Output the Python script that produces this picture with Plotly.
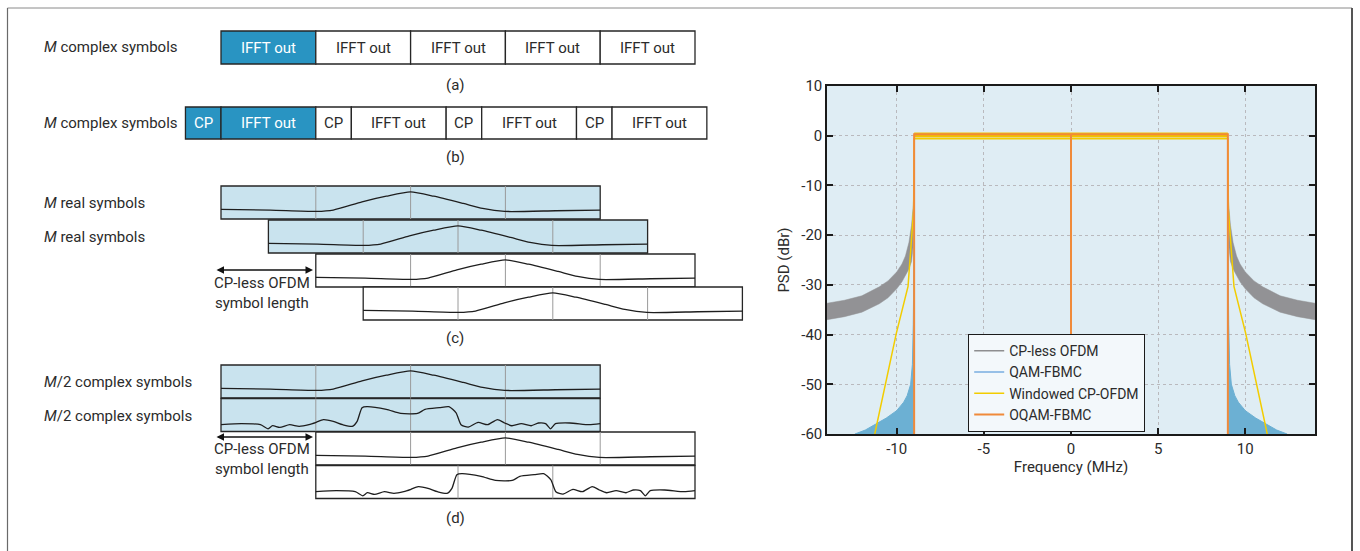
import plotly.graph_objects as go

W, H = 1360, 551
FONT = "Roboto, 'Open Sans', sans-serif"
TXT = "#2b2b2b"

# ---------------- PSD panel data ----------------
psd_xticks = [-10, -5, 0, 5, 10]
psd_xticktext = ["-10", "-5", "0", "5", "10"]
psd_yticks = [-60, -50, -40, -30, -20, -10, 0, 10]
psd_yticktext = ["-60", "-50", "-40", "-30", "-20", "-10", "0", "10"]

band_f = [-9.0, 9.0]          # occupied band edges (MHz)
inband_psd = [0.0, 0.0]       # in-band level (dBr)

# CP-less OFDM: out-of-band sidelobe envelope (left side, mirrored on the right)
cpless_f = [-14.0, -13.0, -12.0, -11.0, -10.5, -10.0, -9.7, -9.5, -9.3, -9.15, -9.05, -9.0]
cpless_upper = [-33.7, -33.1, -32.2, -30.4, -29.2, -27.4, -25.8, -24.2, -21.5, -18.0, -14.0, -10.0]
cpless_lower = [-37.0, -36.4, -35.5, -33.8, -32.6, -30.8, -29.4, -28.2, -26.8, -25.3, -22.0, -10.0]

# QAM-FBMC out-of-band skirt (left side, mirrored)
qam_f = [-12.4, -11.8, -11.2, -10.6, -10.0, -9.6, -9.4, -9.2, -9.1, -9.05, -9.0]
qam_psd = [-60.0, -59.2, -58.0, -56.8, -55.3, -53.6, -52.3, -50.0, -46.0, -38.0, -20.0]

# Windowed CP-OFDM skirt (left side, mirrored)
win_f = [-11.26, -10.02, -9.35, -9.03, -9.0]
win_psd = [-60.0, -39.7, -30.3, -15.0, -0.6]
win_top = [0.15, 0.15]

# OQAM-FBMC (with DC null)
oqam_f = [-9.0, -9.0, 0.0, 0.0, 0.0, 9.0, 9.0]
oqam_psd = [-60.0, 0.3, 0.3, -60.0, 0.3, 0.3, -60.0]

# ---------------- Diagram data ----------------
row_a_labels = ["IFFT out", "IFFT out", "IFFT out", "IFFT out", "IFFT out"]
row_a_len = [1, 1, 1, 1, 1]
row_a_fill = [True, False, False, False, False]

row_b_labels = ["CP", "IFFT out", "CP", "IFFT out", "CP", "IFFT out", "CP", "IFFT out"]
row_b_len = [0.375, 1, 0.375, 1, 0.375, 1, 0.375, 1]
row_b_fill = [True, True, False, False, False, False, False, False]

# pulse shapes (x fraction of block, y fraction from block top)
bell_x = [0.0, 0.13, 0.251, 0.296, 0.372, 0.436, 0.5, 0.561, 0.639, 0.69, 0.748, 0.882, 1.0]
bell_y = [0.71, 0.73, 0.77, 0.73, 0.48, 0.31, 0.18, 0.31, 0.53, 0.68, 0.77, 0.75, 0.73]

noisy_x = [0.0, 0.054, 0.104, 0.124, 0.136, 0.155, 0.181, 0.206, 0.232, 0.251, 0.27, 0.296,
           0.321, 0.346, 0.359, 0.372, 0.385, 0.436, 0.474, 0.518, 0.538, 0.576, 0.601, 0.62,
           0.633, 0.652, 0.678, 0.703, 0.729, 0.748, 0.767, 0.792, 0.818, 0.837, 0.856, 0.869,
           0.882, 0.92, 0.971, 1.0]
noisy_y = [0.794, 0.763, 0.794, 0.918, 0.825, 0.876, 0.794, 0.845, 0.794, 0.722, 0.639, 0.691,
           0.794, 0.845, 0.691, 0.278, 0.247, 0.33, 0.454, 0.454, 0.33, 0.278, 0.247, 0.433,
           0.794, 0.866, 0.722, 0.794, 0.639, 0.742, 0.825, 0.763, 0.825, 0.742, 0.763, 0.918,
           0.763, 0.742, 0.794, 0.763]

# blocks of panels (c) and (d): start offset (in IFFT units), fill, shape, divider fractions
c_offsets = [0.0, 0.5, 1.0, 1.5]
c_fill = [True, True, False, False]
c_shape = ["bell", "bell", "bell", "bell"]
c_dividers = [[0.25, 0.5, 0.75]] * 4

d_offsets = [0.0, 0.0, 1.0, 1.0]
d_fill = [True, True, False, False]
d_shape = ["bell", "noisy", "bell", "noisy"]
d_dividers = [[0.25, 0.5, 0.75], [0.25, 0.5, 0.75], [0.25, 0.5, 0.75], [0.375, 0.625]]

# ---------------- layout geometry (pixels) ----------------
U = 94.8           # one IFFT block width
X0 = 221.0
BLUE = "#2994c2"
LBLUE = "#c9e3ee"
EDGE = "#262626"

fig = go.Figure()

def mirror(xs, ys):
    return [-v for v in reversed(xs)], list(reversed(ys))

# CP-less OFDM (legend line in-band + sidelobe band)
fig.add_trace(go.Scatter(x=band_f, y=inband_psd, mode="lines", name="CP-less OFDM",
                         line=dict(color="#8e8e90", width=1.5)))
lx = cpless_f + list(reversed(cpless_f))
ly = cpless_upper + list(reversed(cpless_lower))
rx = [-v for v in lx]
fig.add_trace(go.Scatter(x=lx + [None] + rx, y=ly + [None] + ly, mode="lines", fill="toself",
                         fillcolor="#929295", line=dict(color="#929295", width=0.5),
                         showlegend=False, hoverinfo="skip"))

# QAM-FBMC
fig.add_trace(go.Scatter(x=band_f, y=inband_psd, mode="lines", name="QAM-FBMC",
                         line=dict(color="#78aee0", width=1.5)))
qx = qam_f + [qam_f[-1]]
qy = qam_psd + [-60.0]
qrx = [-v for v in qx]
fig.add_trace(go.Scatter(x=qx + [None] + qrx, y=qy + [None] + qy, mode="lines", fill="toself",
                         fillcolor="#6cb0d3", line=dict(color="#6cb0d3", width=1),
                         showlegend=False, hoverinfo="skip"))

# Windowed CP-OFDM
wrx, wry = mirror(win_f, win_psd)
fig.add_trace(go.Scatter(x=win_f + wrx, y=win_psd + wry, mode="lines", name="Windowed CP-OFDM",
                         line=dict(color="#f2cc00", width=1.5)))
fig.add_trace(go.Scatter(x=band_f, y=win_top, mode="lines", showlegend=False,
                         line=dict(color="#f2c200", width=5), hoverinfo="skip"))

# OQAM-FBMC
fig.add_trace(go.Scatter(x=oqam_f, y=oqam_psd, mode="lines", name="OQAM-FBMC",
                         line=dict(color="#f08a3a", width=2)))

# ---------- Diagram (pixel axes x2/y2) ----------
shapes = []
ann = []

def box(x0, x1, y0, y1, fill, width=1.3):
    shapes.append(dict(type="rect", xref="x2", yref="y2", x0=x0, x1=x1, y0=y0, y1=y1,
                       fillcolor=fill, line=dict(color=EDGE, width=width), layer="below"))

def text(x, y, s, size=15, color=TXT, xanchor="center", align="center"):
    ann.append(dict(xref="x2", yref="y2", x=x, y=y, text=s, showarrow=False,
                    font=dict(family=FONT, size=size, color=color),
                    xanchor=xanchor, yanchor="middle", align=align))

def block_row(x_start, y0, y1, labels, lengths, fills):
    x = x_start
    for lab, ln, f in zip(labels, lengths, fills):
        w = ln * U
        box(x, x + w, y0, y1, BLUE if f else "white")
        text(x + w / 2, (y0 + y1) / 2, lab, color="white" if f else TXT)
        x += w

# (a)
block_row(X0, 31, 64, row_a_labels, row_a_len, row_a_fill)
text(42, 47, "<i>M</i> complex symbols", xanchor="left")
text(455, 85, "(a)")
# (b)
block_row(X0 - row_b_len[0] * U, 107, 139, row_b_labels, row_b_len, row_b_fill)
text(42, 123, "<i>M</i> complex symbols", xanchor="left")
text(455, 157, "(b)")

shape_lib = {"bell": (bell_x, bell_y), "noisy": (noisy_x, noisy_y)}

def pulse_blocks(offsets, tops, fills, kinds, dividers, hgt):
    for off, top, f, kind, divs in zip(offsets, tops, fills, kinds, dividers):
        x0 = X0 + off * U
        x1 = x0 + 4 * U
        box(x0, x1, top, top + hgt, LBLUE if f else "white")
        for d in divs:
            xd = x0 + d * (x1 - x0)
            shapes.append(dict(type="line", xref="x2", yref="y2", x0=xd, x1=xd, y0=top, y1=top + hgt,
                               line=dict(color="#9a9a9a", width=1), layer="below"))
        xs, ys = shape_lib[kind]
        fig.add_trace(go.Scatter(x=[x0 + v * (x1 - x0) for v in xs],
                                 y=[top + v * hgt for v in ys],
                                 mode="lines", line=dict(color="#1e1e1e", width=1.3, shape="spline",
                                                         smoothing=0.6),
                                 xaxis="x2", yaxis="y2", showlegend=False, hoverinfo="skip"))

# (c)
pulse_blocks(c_offsets, [186, 220, 254, 287], c_fill, c_shape, c_dividers, 33)
text(42, 203, "<i>M</i> real symbols", xanchor="left")
text(42, 237, "<i>M</i> real symbols", xanchor="left")
text(455, 338, "(c)")
text(262, 293, "CP-less OFDM<br>symbol length")
ann.append(dict(xref="x2", yref="y2", axref="x2", ayref="y2", x=313, y=270, ax=215, ay=270,
                showarrow=True, arrowhead=2, startarrowhead=2, arrowside="end+start",
                arrowsize=1, arrowwidth=1.5, arrowcolor="#111", text=""))

# (d)
pulse_blocks(d_offsets, [365, 398.5, 432, 465.5], d_fill, d_shape, d_dividers, 33)
text(42, 382, "<i>M</i>/2 complex symbols", xanchor="left")
text(42, 416, "<i>M</i>/2 complex symbols", xanchor="left")
text(455, 518, "(d)")
text(262, 459, "CP-less OFDM<br>symbol length")
ann.append(dict(xref="x2", yref="y2", axref="x2", ayref="y2", x=313, y=437, ax=215, ay=437,
                showarrow=True, arrowhead=2, startarrowhead=2, arrowside="end+start",
                arrowsize=1, arrowwidth=1.5, arrowcolor="#111", text=""))

# PSD background
shapes.append(dict(type="rect", xref="x domain", yref="y domain", x0=0, x1=1, y0=0, y1=1,
                   fillcolor="#dfedf4", line=dict(width=0), layer="below"))
# outer frame
shapes.append(dict(type="line", xref="paper", yref="paper", x0=7.5 / W, x1=1352 / W,
                   y0=1 - 8 / H, y1=1 - 8 / H, line=dict(color="#8a8a8a", width=1)))
shapes.append(dict(type="line", xref="paper", yref="paper", x0=7.5 / W, x1=7.5 / W,
                   y0=0, y1=1 - 8 / H, line=dict(color="#6a6a6a", width=1.2)))
shapes.append(dict(type="line", xref="paper", yref="paper", x0=1352 / W, x1=1352 / W,
                   y0=0, y1=1 - 8 / H, line=dict(color="#555555", width=2)))

DX = 0.56
axis_common = dict(showline=True, linecolor="#1a1a1a", linewidth=1.5, mirror="ticks",
                   ticks="inside", ticklen=6, tickwidth=1.5, tickcolor="#1a1a1a",
                   showgrid=True, gridcolor="#b9b9bd", griddash="dot", gridwidth=1,
                   zeroline=False, automargin=False,
                   tickfont=dict(family=FONT, size=15, color=TXT),
                   title_font=dict(family=FONT, size=15, color=TXT))

fig.update_layout(
    width=W, height=H, margin=dict(l=0, r=0, t=0, b=0, pad=0, autoexpand=False),
    paper_bgcolor="white", plot_bgcolor="rgba(0,0,0,0)",
    font=dict(family=FONT, size=15, color=TXT),
    xaxis=dict(domain=[827 / W, 1315 / W], range=[-14, 14], tickvals=psd_xticks,
               ticktext=psd_xticktext,
               title=dict(text="Frequency (MHz)", standoff=4), **axis_common),
    yaxis=dict(domain=[(H - 434) / H, (H - 86) / H], range=[-60, 10], tickvals=psd_yticks,
               ticktext=psd_yticktext,
               title=dict(text="PSD (dBr)", standoff=8), **axis_common),
    xaxis2=dict(domain=[0, DX], range=[0, DX * W], visible=False, fixedrange=True,
                anchor="y2", automargin=False),
    yaxis2=dict(domain=[0, 1], range=[H, 0], visible=False, fixedrange=True, anchor="x2",
                automargin=False),
    legend=dict(x=968 / W, y=1 - 334 / H, xanchor="left", yanchor="top",
                bgcolor="#f3f8fb", bordercolor="#1a1a1a", borderwidth=1.2,
                font=dict(family=FONT, size=14, color=TXT), tracegroupgap=0),
    shapes=shapes, annotations=ann, showlegend=True,
)

fig.write_html("out.html")
